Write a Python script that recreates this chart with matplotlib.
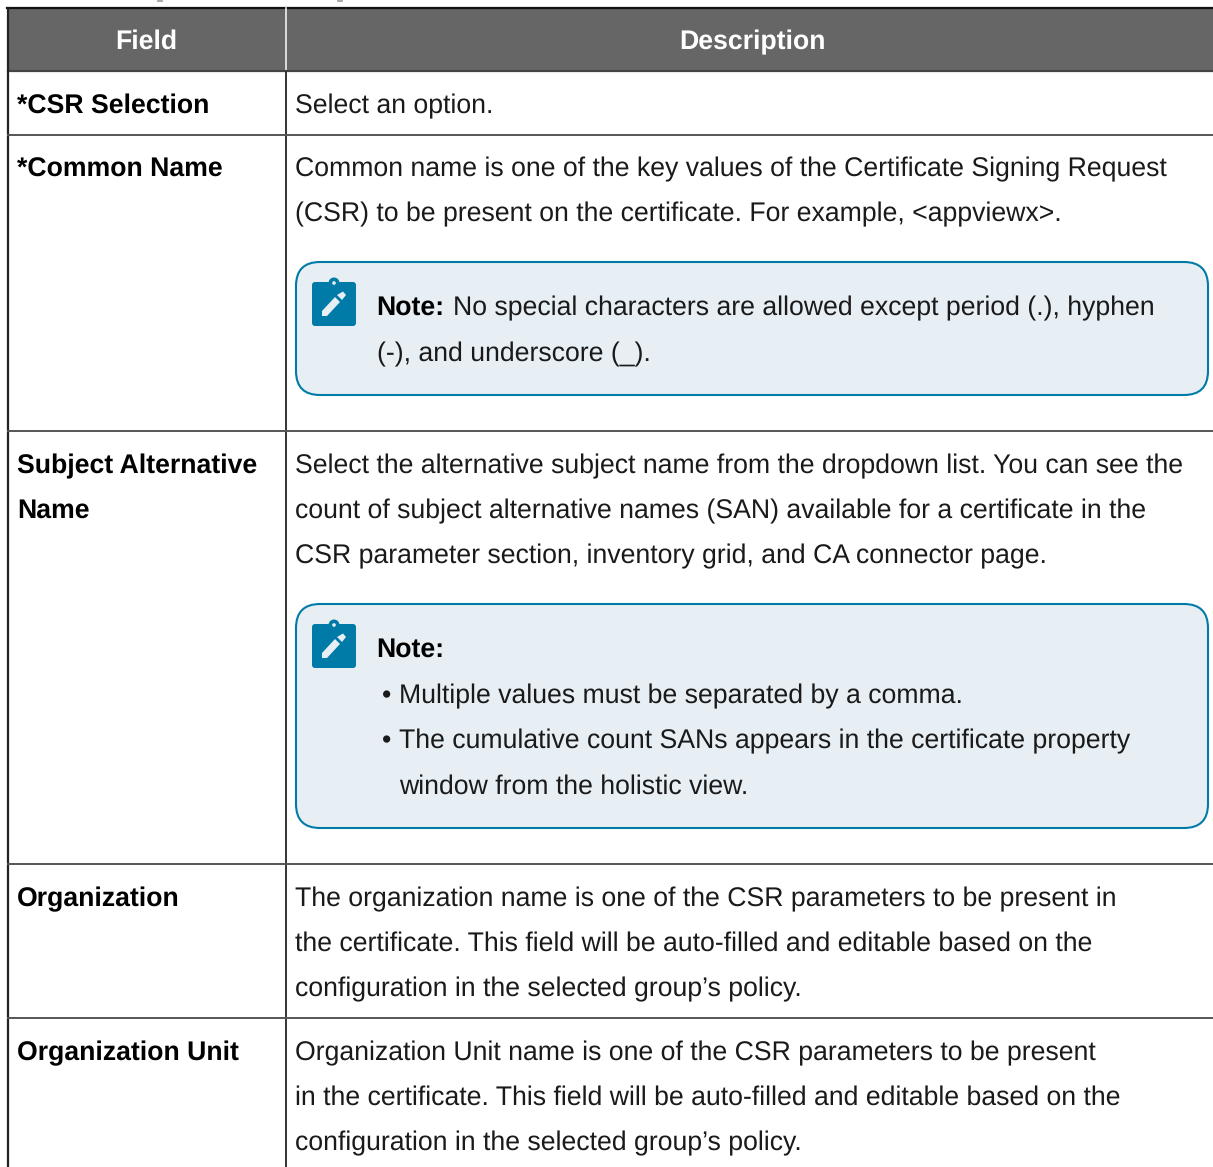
import matplotlib
matplotlib.use("Agg")
import matplotlib.pyplot as plt
from matplotlib.patches import FancyBboxPatch, Rectangle, Polygon, Circle

plt.rcParams["font.family"] = ["Liberation Sans", "DejaVu Sans"]
plt.rcParams["text.hinting"] = "no_hinting"

# table text
header_labels = ["Field", "Description"]
field_labels = [
    ("*CSR Selection", 113),
    ("*Common Name", 176.4),
    ("Subject Alternative", 473),
    ("Name", 518),
    ("Organization", 906),
    ("Organization Unit", 1060),
]
description_lines = [
    ("Select an option.", 113),
    ("Common name is one of the key values of the Certificate Signing Request", 176),
    ("(CSR) to be present on the certificate. For example, <appviewx>.", 221),
    ("Select the alternative subject name from the dropdown list. You can see the", 473),
    ("count of subject alternative names (SAN) available for a certificate in the", 518),
    ("CSR parameter section, inventory grid, and CA connector page.", 563),
    ("The organization name is one of the CSR parameters to be present in", 906),
    ("the certificate. This field will be auto-filled and editable based on the", 951),
    ("configuration in the selected group\u2019s policy.", 996),
    ("Organization Unit name is one of the CSR parameters to be present", 1060),
    ("in the certificate. This field will be auto-filled and editable based on the", 1105),
    ("configuration in the selected group\u2019s policy.", 1150),
]
row_lines = [134.5, 431, 864, 1018]
cut_off_marks = [160, 340]

W, H = 1213, 1167
FS = 19.15

fig = plt.figure(figsize=(W / 100, H / 100), dpi=100)
ax = fig.add_axes([0, 0, 1, 1])
ax.set_xlim(0, W)
ax.set_ylim(H, 0)
ax.axis("off")


def txt(x, y, s, bold=False, color="#1a1a1a", ha="left"):
    ax.text(x, y, s, fontsize=FS, fontweight="bold" if bold else "normal",
            color=color, ha=ha, va="baseline", zorder=5)


def note_box(y0, y1):
    ax.add_patch(FancyBboxPatch((296, y0), 912, y1 - y0,
                                boxstyle="round,pad=0,rounding_size=24",
                                fc="#e7eff5", ec="#007ba7", lw=1.5, zorder=2))
    # clipboard icon
    ax.add_patch(FancyBboxPatch((312, y0 + 20), 44, 44,
                                boxstyle="round,pad=0,rounding_size=3",
                                fc="#007ba7", ec="none", zorder=3))
    ax.add_patch(Circle((334, y0 + 21), 5.5, fc="#007ba7", ec="none", zorder=3))
    ax.add_patch(Circle((334, y0 + 21), 1.8, fc="#e7eff5", ec="none", zorder=4))
    ax.add_patch(Polygon([(322, y0 + 49), (322, y0 + 54), (327, y0 + 54),
                          (340, y0 + 40), (335, y0 + 35)], fc="#e7eff5", ec="none", zorder=4))
    ax.add_patch(Polygon([(337, y0 + 33), (342, y0 + 38), (346, y0 + 33),
                          (343, y0 + 29.5)], fc="#e7eff5", ec="none", zorder=4))


# header
ax.add_patch(Rectangle((8, 8), W - 8, 63, fc="#666666", ec="none", zorder=1))
ax.plot([7, W], [8, 8], color="#111111", lw=1.6, zorder=3)
ax.plot([8, W], [71, 71], color="#444444", lw=1.6, zorder=3)
ax.plot([286, 286], [8, 71], color="#f0f0f0", lw=1.2, zorder=3)
ax.plot([286, 286], [71, H], color="#333333", lw=1.4, zorder=3)
ax.plot([8, 8], [8, H], color="#222222", lw=1.6, zorder=3)
txt(146.5, 49, header_labels[0], bold=True, color="white", ha="center")
txt(752, 49, header_labels[1], bold=True, color="white", ha="center")

# descenders of the line cut off above the table
for x in cut_off_marks:
    ax.plot([x - 2, x + 2], [0.5, 0.5], color="#999999", lw=1.2, zorder=3)

for y in row_lines:
    ax.plot([8, W], [y, y], color="#555555", lw=1.4, zorder=3)

for label, y in field_labels:
    txt(17, y, label, bold=True, color="#000000")
for line, y in description_lines:
    txt(295, y, line)

# notes
note_box(262, 395)
txt(376.6, 315, "Note:", bold=True, color="#000000")
txt(453, 315, "No special characters are allowed except period (.), hyphen")
txt(377, 361, "(-), and underscore (_).")

note_box(604, 828)
txt(376.6, 657, "Note:", bold=True, color="#000000")
txt(382, 703, "\u2022")
txt(399, 703, "Multiple values must be separated by a comma.")
txt(382, 748, "\u2022")
txt(399, 748, "The cumulative count SANs appears in the certificate property")
txt(399, 794, "window from the holistic view.")

fig.savefig("out.png", dpi=100)
